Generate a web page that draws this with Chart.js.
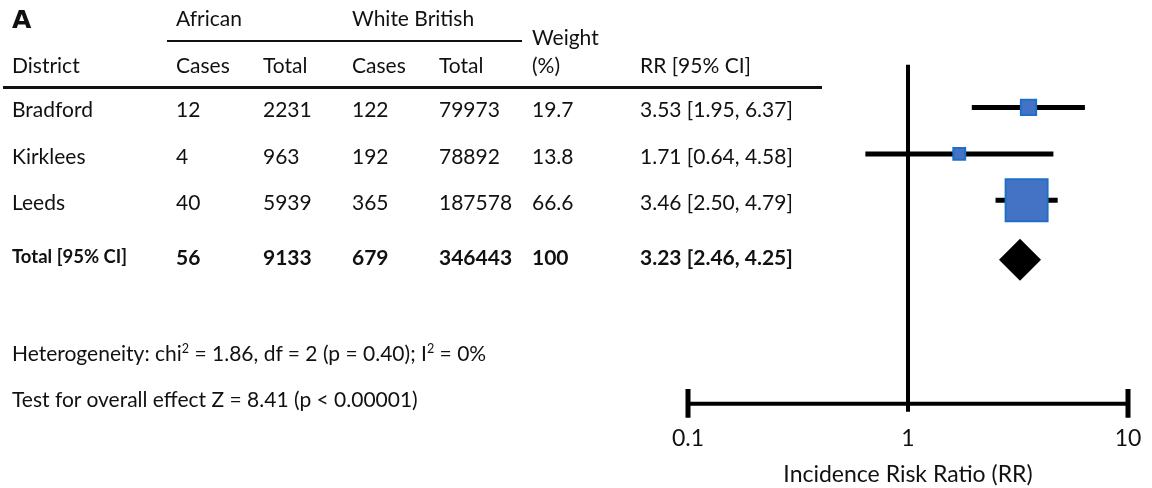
<html>
<head>
<title>Forest plot - African vs White British</title>
<script src="https://cdn.jsdelivr.net/npm/chart.js@4.4.0/dist/chart.umd.min.js"></script>
<style>
  body { margin: 0; background: #fff; }
  #wrap { position: relative; width: 1152px; height: 488px; font-family: Lato, "Open Sans", sans-serif; color: #111; }
  #wrap canvas { position: absolute; left: 0; top: 0; }
  .t { position: absolute; font-size: 21px; line-height: 24px; white-space: nowrap; transform: translateY(-50%); }
  .b { font-weight: bold; }
  .small { font-size: 18.5px; }
  .rule { position: absolute; background: #111; }
  sup { font-size: 0.6em; line-height: 0; vertical-align: 0.65em; }
</style>
<script>
// table data
var districts = ['Bradford', 'Kirklees', 'Leeds'];
var africanCases = [12, 4, 40];
var africanTotal = [2231, 963, 5939];
var whiteCases = [122, 192, 365];
var whiteTotal = [79973, 78892, 187578];
var weights = [19.7, 13.8, 66.6];
var rr = [3.53, 1.71, 3.46];
var rrLow = [1.95, 0.64, 2.50];
var rrHigh = [6.37, 4.58, 4.79];

var totalLabel = 'Total [95% CI]';
var totals = [56, 9133, 679, 346443, 100];
var rrTotal = 3.23;
var rrTotalLow = 2.46;
var rrTotalHigh = 4.25;

var xTicks = [0.1, 1, 10];
var xTitle = 'Incidence Risk Ratio (RR)';

// vertical slots on the plot (rows top to bottom)
var rowPos = [1, 2, 3];
var totalPos = 4.28;
var axisPos = 7.38;

var colX = [12, 176, 263, 352, 439, 532, 640];

function ci(v, lo, hi) {
    return v.toFixed(2) + ' [' + lo.toFixed(2) + ', ' + hi.toFixed(2) + ']';
}

function addText(parent, txt, x, y, cls) {
    var d = document.createElement('div');
    d.className = 't' + (cls ? ' ' + cls : '');
    d.style.left = x + 'px';
    d.style.top = y + 'px';
    d.innerHTML = txt;
    parent.appendChild(d);
}

function addRule(parent, x, y, w, h) {
    var d = document.createElement('div');
    d.className = 'rule';
    d.style.left = x + 'px';
    d.style.top = y + 'px';
    d.style.width = w + 'px';
    d.style.height = h + 'px';
    parent.appendChild(d);
}

function start() {
    var wrap = document.getElementById('wrap');
    var chart = createChart();
    var ys = chart.scales.y;

    addText(wrap, 'A', 12, 20, 'b head-a');
    addText(wrap, 'African', colX[1], 18);
    addText(wrap, 'White British', colX[3], 18);
    addText(wrap, 'Weight', colX[5], 37);
    addRule(wrap, 167, 40, 355, 2);
    var hdr = ['District', 'Cases', 'Total', 'Cases', 'Total', '(%)', 'RR [95% CI]'];
    hdr.forEach(function(h, i) { addText(wrap, h, colX[i], 65); });
    addRule(wrap, 3, 86, 819, 3);

    districts.forEach(function(d, i) {
        var y = ys.getPixelForValue(rowPos[i]) + 2;
        var cells = [d, africanCases[i], africanTotal[i], whiteCases[i], whiteTotal[i],
                     weights[i].toFixed(1), ci(rr[i], rrLow[i], rrHigh[i])];
        cells.forEach(function(c, j) { addText(wrap, c, colX[j], y); });
    });

    var ty = ys.getPixelForValue(totalPos) - 3;
    addText(wrap, totalLabel, colX[0], ty - 1, 'b small');
    totals.forEach(function(c, j) { addText(wrap, c, colX[j + 1], ty, 'b'); });
    addText(wrap, ci(rrTotal, rrTotalLow, rrTotalHigh), colX[6], ty, 'b');

    addText(wrap, 'Heterogeneity: chi<sup>2</sup> = 1.86, df = 2 (p = 0.40); I<sup>2</sup> = 0%', colX[0], 353);
    addText(wrap, 'Test for overall effect Z = 8.41 (p &lt; 0.00001)', colX[0], 399);
}

function createChart() {
    var ctx = document.getElementById('forest');
    var datasets = [];

    // study squares, side grows with weight
    datasets.push({
        type: 'scatter',
        data: rr.map(function(v, i) { return { x: v, y: rowPos[i] }; }),
        pointStyle: 'rect',
        pointRadius: weights.map(function(w) { return (4 + 0.57 * w) / Math.SQRT2; }),
        backgroundColor: '#4472c4',
        borderColor: '#1f6fc7',
        borderWidth: 2,
        order: 0
    });
    // pooled diamond
    datasets.push({
        type: 'scatter',
        data: [{ x: rrTotal, y: totalPos }],
        pointStyle: 'rectRot',
        pointRadius: 21,
        backgroundColor: '#000',
        borderColor: '#000',
        borderWidth: 0,
        order: 0
    });
    // confidence intervals
    rr.forEach(function(v, i) {
        datasets.push({
            type: 'line',
            data: [{ x: rrLow[i], y: rowPos[i] }, { x: rrHigh[i], y: rowPos[i] }],
            borderColor: '#000',
            borderWidth: 5,
            pointRadius: 0,
            order: 1
        });
    });
    // line of no effect
    datasets.push({
        type: 'line',
        data: [{ x: 1, y: 0.08 }, { x: 1, y: 7.55 }],
        borderColor: '#000',
        borderWidth: 4,
        pointRadius: 0,
        order: 2
    });
    // axis line and end caps
    datasets.push({
        type: 'line',
        data: [{ x: xTicks[0], y: axisPos }, { x: xTicks[2], y: axisPos }],
        borderColor: '#000',
        borderWidth: 4,
        pointRadius: 0,
        order: 2
    });
    [xTicks[0], xTicks[2]].forEach(function(t) {
        datasets.push({
            type: 'line',
            data: [{ x: t, y: axisPos - 0.32 }, { x: t, y: axisPos + 0.3 }],
            borderColor: '#000',
            borderWidth: 5,
            pointRadius: 0,
            order: 2
        });
    });

    return new Chart(ctx, {
        type: 'scatter',
        data: { datasets: datasets.map(function(d) { d.clip = false; return d; }) },
        options: {
            responsive: false,
            animation: false,
            events: [],
            layout: { autoPadding: false, padding: { left: 688, right: 24, top: 61, bottom: 0 } },
            plugins: { legend: { display: false }, tooltip: { enabled: false } },
            scales: {
                x: {
                    type: 'logarithmic',
                    min: 0.1,
                    max: 10,
                    afterBuildTicks: function(scale) {
                        scale.ticks = xTicks.map(function(v) { return { value: v }; });
                    },
                    ticks: {
                        autoSkip: false,
                        maxRotation: 0,
                        padding: 8,
                        color: '#111',
                        font: { family: 'Lato', size: 23 },
                        callback: function(v) { return String(v); }
                    },
                    grid: { display: false, drawTicks: false },
                    border: { display: false },
                    title: {
                        display: true,
                        text: xTitle,
                        color: '#111',
                        font: { family: 'Lato', size: 23 },
                        padding: { top: 0, bottom: 0 }
                    }
                },
                y: {
                    type: 'linear',
                    display: false,
                    reverse: true,
                    min: 0,
                    max: 7.66
                }
            }
        }
    });
}
</script>
<style>
  .head-a { font-family: "DejaVu Sans", sans-serif; font-size: 25px; font-weight: 900; }
</style>
</head>
<body onload="start()">
<div id="wrap">
  <canvas id="forest" width="1152" height="488"></canvas>
</div>
</body>
</html>
